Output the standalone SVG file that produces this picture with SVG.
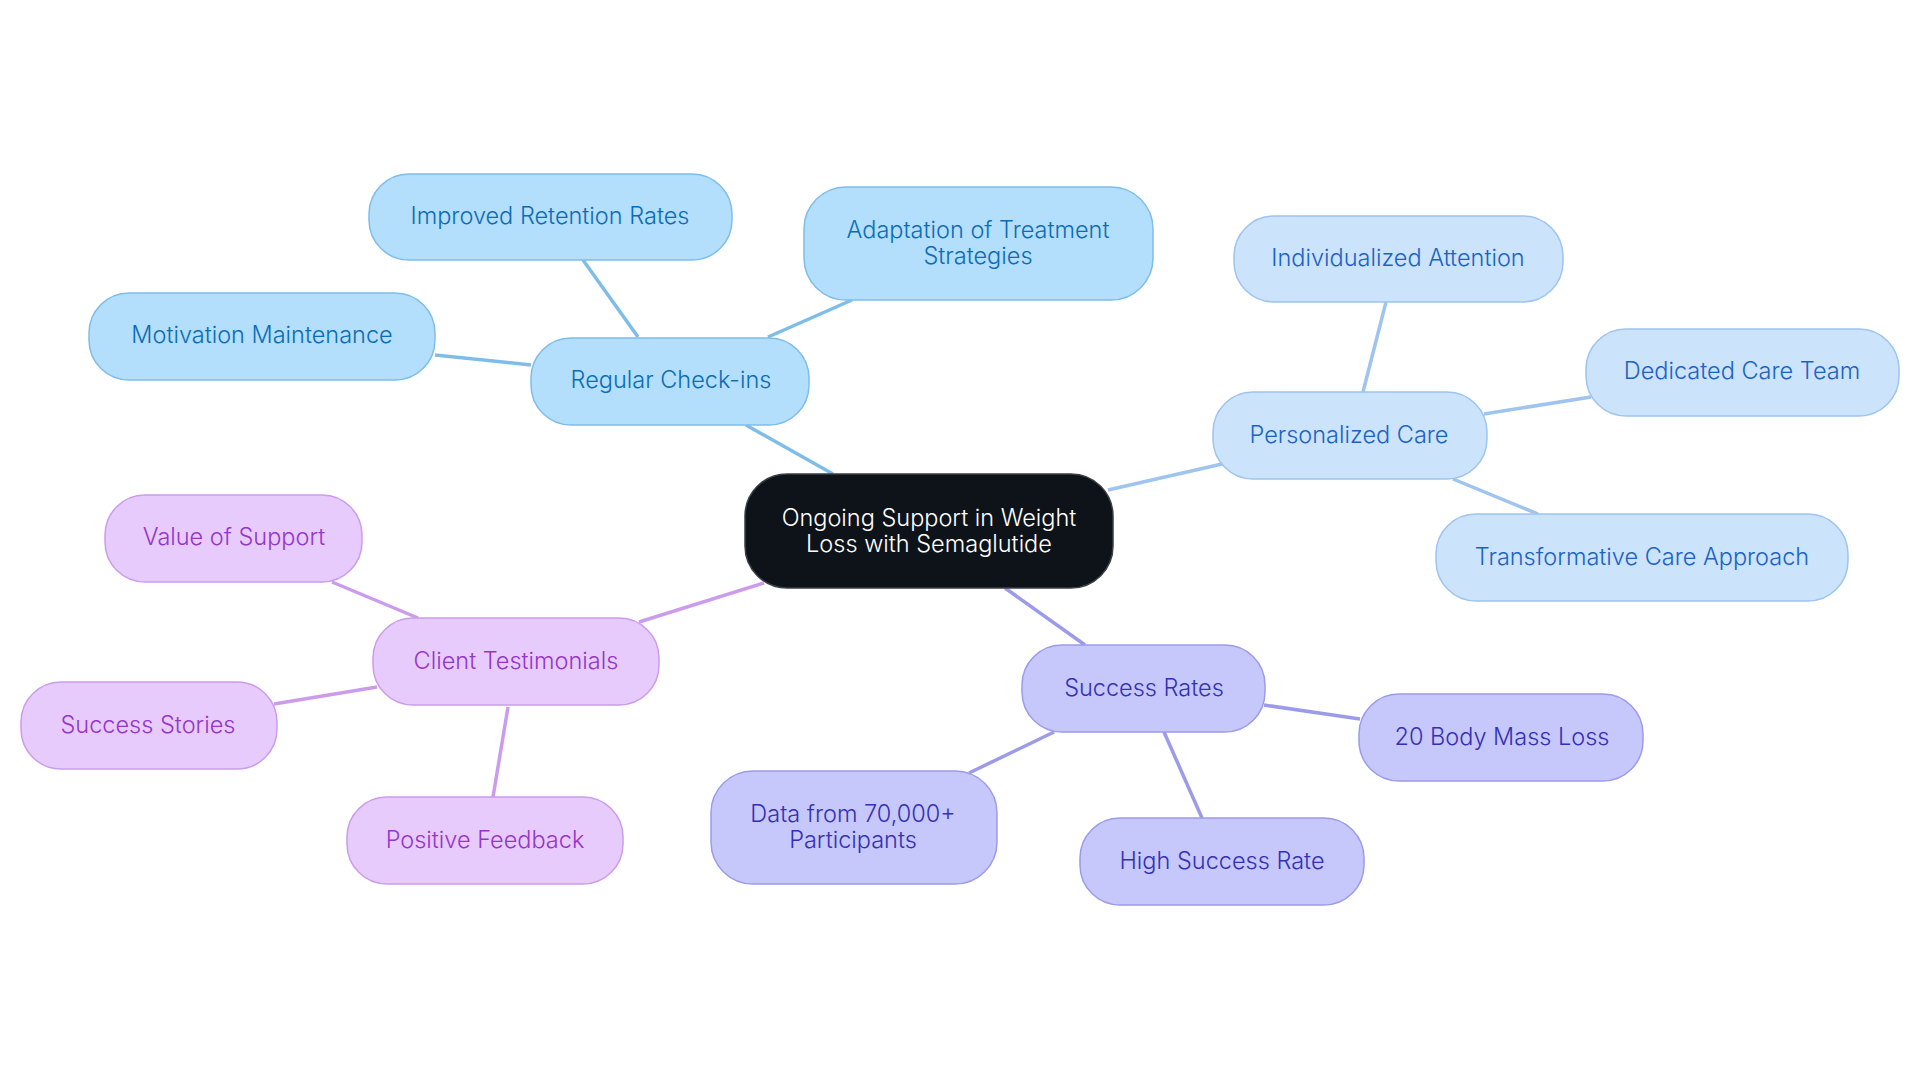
<svg xmlns="http://www.w3.org/2000/svg" width="1920" height="1083" viewBox="0 0 1920 1083">
<style>
text{font-family:Inter,"Noto Sans","Liberation Sans",sans-serif;font-size:23.5px;font-weight:300;text-anchor:middle;dominant-baseline:central}
.c1 rect{fill:#b3defc;stroke:#7fbde9;stroke-width:1.5}
.c1 text{fill:#0c6cb5}
.c2 rect{fill:#cbe3fb;stroke:#9ec4ef;stroke-width:1.5}
.c2 text{fill:#1b62c4}
.c3 rect{fill:#e8cbfd;stroke:#cb9ceb;stroke-width:1.5}
.c3 text{fill:#9535c9}
.c4 rect{fill:#c6c8fc;stroke:#9c9bea;stroke-width:1.5}
.c4 text{fill:#3530b5}
.root rect{fill:#0e1319;stroke:#3a3f46;stroke-width:1.5}
.root text{fill:#ffffff}
#edges line{stroke-width:3.5;fill:none}
.e1{stroke:#7fbde9}.e2{stroke:#9ec4ef}.e3{stroke:#cb9ceb}.e4{stroke:#9c9bea}
</style>
<rect width="1920" height="1083" fill="#ffffff"/>
<g id="edges">
<line class="e1" x1="746" y1="425" x2="833" y2="474"/>
<line class="e1" x1="583" y1="260" x2="638" y2="337"/>
<line class="e1" x1="768" y1="337" x2="852" y2="300"/>
<line class="e1" x1="435" y1="355" x2="531" y2="365"/>
<line class="e2" x1="1108" y1="490" x2="1222" y2="464"/>
<line class="e2" x1="1386" y1="302" x2="1363" y2="392"/>
<line class="e2" x1="1484" y1="414" x2="1591" y2="397"/>
<line class="e2" x1="1453" y1="479" x2="1538" y2="514"/>
<line class="e3" x1="764" y1="583" x2="639" y2="622"/>
<line class="e3" x1="332" y1="582" x2="418" y2="618"/>
<line class="e3" x1="274" y1="704" x2="377" y2="687"/>
<line class="e3" x1="508" y1="707" x2="493" y2="797"/>
<line class="e4" x1="1005" y1="588" x2="1085" y2="645"/>
<line class="e4" x1="1264" y1="705" x2="1360" y2="719"/>
<line class="e4" x1="1164" y1="732" x2="1202" y2="818"/>
<line class="e4" x1="1054" y1="732" x2="969" y2="773"/>
</g>
<g id="root" class="root"><rect x="745" y="474" width="368" height="114" rx="42"/><text x="929" y="517">Ongoing Support in Weight</text><text x="929" y="543">Loss with Semaglutide</text></g>
<g id="regular-checkins" class="c1"><rect x="531" y="338" width="278" height="87" rx="40"/><text x="671" y="379">Regular Check-ins</text></g>
<g id="improved-retention" class="c1"><rect x="369" y="174" width="363" height="86" rx="40"/><text x="550" y="215">Improved Retention Rates</text></g>
<g id="adaptation" class="c1"><rect x="804" y="187" width="349" height="113" rx="42"/><text x="978" y="229">Adaptation of Treatment</text><text x="978" y="255">Strategies</text></g>
<g id="motivation" class="c1"><rect x="89" y="293" width="346" height="87" rx="40"/><text x="262" y="334">Motivation Maintenance</text></g>
<g id="personalized-care" class="c2"><rect x="1213" y="392" width="274" height="87" rx="40"/><text x="1349" y="434">Personalized Care</text></g>
<g id="individualized" class="c2"><rect x="1234" y="216" width="329" height="86" rx="40"/><text x="1398" y="257">Individualized Attention</text></g>
<g id="dedicated" class="c2"><rect x="1586" y="329" width="313" height="87" rx="40"/><text x="1742" y="370">Dedicated Care Team</text></g>
<g id="transformative" class="c2"><rect x="1436" y="514" width="412" height="87" rx="40"/><text x="1642" y="556">Transformative Care Approach</text></g>
<g id="client-testimonials" class="c3"><rect x="373" y="618" width="286" height="87" rx="40"/><text x="516" y="660">Client Testimonials</text></g>
<g id="value-support" class="c3"><rect x="105" y="495" width="257" height="87" rx="40"/><text x="234" y="536">Value of Support</text></g>
<g id="success-stories" class="c3"><rect x="21" y="682" width="256" height="87" rx="40"/><text x="148" y="724">Success Stories</text></g>
<g id="positive-feedback" class="c3"><rect x="347" y="797" width="276" height="87" rx="40"/><text x="485" y="839">Positive Feedback</text></g>
<g id="success-rates" class="c4"><rect x="1022" y="645" width="243" height="87" rx="40"/><text x="1144" y="687">Success Rates</text></g>
<g id="body-mass" class="c4"><rect x="1359" y="694" width="284" height="87" rx="40"/><text x="1502" y="736">20 Body Mass Loss</text></g>
<g id="high-success" class="c4"><rect x="1080" y="818" width="284" height="87" rx="40"/><text x="1222" y="860">High Success Rate</text></g>
<g id="data-participants" class="c4"><rect x="711" y="771" width="286" height="113" rx="42"/><text x="853" y="813">Data from 70,000+</text><text x="853" y="839">Participants</text></g>
</svg>
